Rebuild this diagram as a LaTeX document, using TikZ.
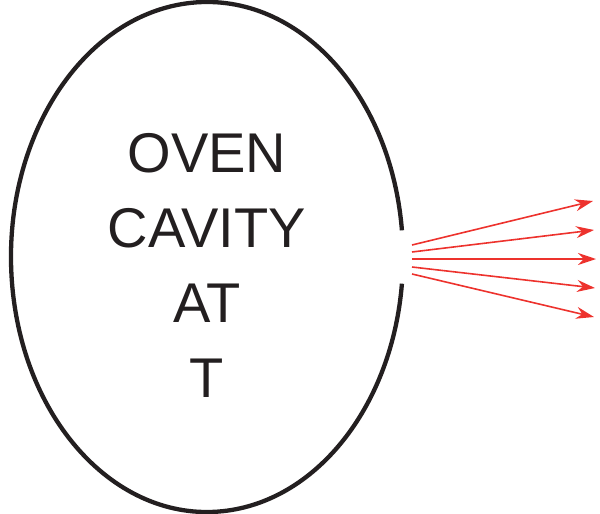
\documentclass[tikz,border=0pt]{standalone}
\usepackage{fontspec}
\setmainfont{Liberation Sans}
\usetikzlibrary{arrows.meta}
\definecolor{inkdark}{RGB}{35,31,32}
\definecolor{rayred}{RGB}{237,50,45}
\tikzset{
  cavity/.style={draw=inkdark, line width=4.3pt},
  ray/.style={draw=rayred, line width=1.6pt, -{Stealth[length=18pt,width=12pt,inset=6pt]}},
  label/.style={font=\fontsize{56pt}{75pt}\selectfont, text=inkdark, align=center, inner sep=0pt}
}
\begin{document}
\begin{tikzpicture}[x=1pt,y=-1pt]
\useasboundingbox (0,0) rectangle (600,514);
% ellipse with an opening on the right
\draw[cavity] (207,257) ++(6:196 and -255) arc[start angle=6, end angle=354, x radius=196, y radius=-255];
\node[label] (txt) at (207,265) {OVEN\\CAVITY\\AT\\T};
% rays
\coordinate (s1) at (412,245); \coordinate (e1) at (593,201);
\coordinate (s2) at (412,252); \coordinate (e2) at (594,230);
\coordinate (s3) at (412,259); \coordinate (e3) at (596,259);
\coordinate (s4) at (412,267); \coordinate (e4) at (595,288);
\coordinate (s5) at (412,274); \coordinate (e5) at (594,317);
\foreach \i in {1,...,5} { \draw[ray] (s\i) -- (e\i); }
\end{tikzpicture}
\end{document}
